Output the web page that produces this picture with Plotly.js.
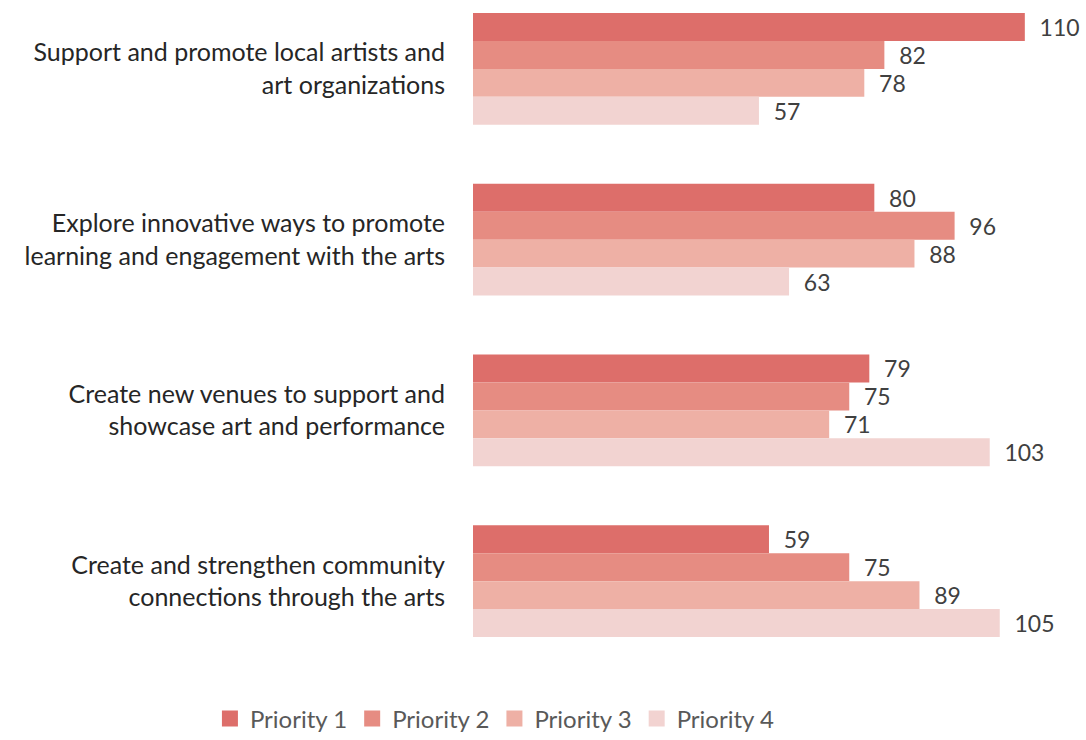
<!DOCTYPE html>
<html>
<head>
<meta charset="utf-8">
<script src="https://cdn.plot.ly/plotly-3.0.1.min.js"></script>
<style>html,body{margin:0;padding:0;background:#fff;}#chart{width:1086px;height:740px;}</style>
</head>
<body>
<div id="chart"></div>
<script>
const categories = [
  "Support and promote local artists and<br>art organizations",
  "Explore innovative ways to promote<br>learning and engagement with the arts",
  "Create new venues to support and<br>showcase art and performance",
  "Create and strengthen community<br>connections through the arts"
];
const seriesNames = ["Priority 1", "Priority 2", "Priority 3", "Priority 4"];
const priority1 = [110, 80, 79, 59];
const priority2 = [82, 96, 75, 75];
const priority3 = [78, 88, 71, 89];
const priority4 = [57, 63, 103, 105];
const colors = ["#dd6e6a", "#e68c82", "#eeb0a5", "#f2d3d1"];

const values = [priority1, priority2, priority3, priority4];
const FONT = "Lato, 'Open Sans', sans-serif";

const barTraces = values.map((v, i) => ({
  type: "bar",
  orientation: "h",
  name: seriesNames[i],
  y: categories,
  x: v,
  marker: {color: colors[i]},
  texttemplate: "\u00a0\u00a0%{x}",
  textposition: "outside",
  cliponaxis: false,
  textfont: {family: FONT, size: 23, color: "#404040"},
  showlegend: false,
  hoverinfo: "x+name"
}));

// legend-only entries (larger square swatches)
const legendTraces = seriesNames.map((n, i) => ({
  type: "scatter",
  mode: "markers",
  name: n,
  x: [null],
  y: [null],
  marker: {symbol: "square", size: 16, color: colors[i]},
  showlegend: true,
  hoverinfo: "skip"
}));

const layout = {
  width: 1086,
  height: 740,
  margin: {l: 473, r: 11, t: 0, b: 60, autoexpand: false},
  paper_bgcolor: "#fff",
  plot_bgcolor: "#fff",
  barmode: "group",
  bargap: 0.345,
  bargroupgap: 0,
  showlegend: true,
  legend: {
    orientation: "h",
    x: -0.437, xanchor: "left",
    y: -0.024, yanchor: "top",
    font: {family: FONT, size: 24, color: "#595959"},
    itemwidth: 30,
    traceorder: "normal"
  },
  xaxis: {
    range: [0, 120],
    showgrid: false, zeroline: false, showline: false,
    showticklabels: false, ticks: ""
  },
  yaxis: {
    type: "category",
    range: [3.579, -0.4035],
    showgrid: false, zeroline: false, showline: false,
    ticks: "outside", ticklen: 22, tickcolor: "rgba(0,0,0,0)",
    tickfont: {family: FONT, size: 25, color: "#262626"}
  }
};

Plotly.newPlot("chart", barTraces.concat(legendTraces), layout, {displayModeBar: false, staticPlot: true});
</script>
</body>
</html>
